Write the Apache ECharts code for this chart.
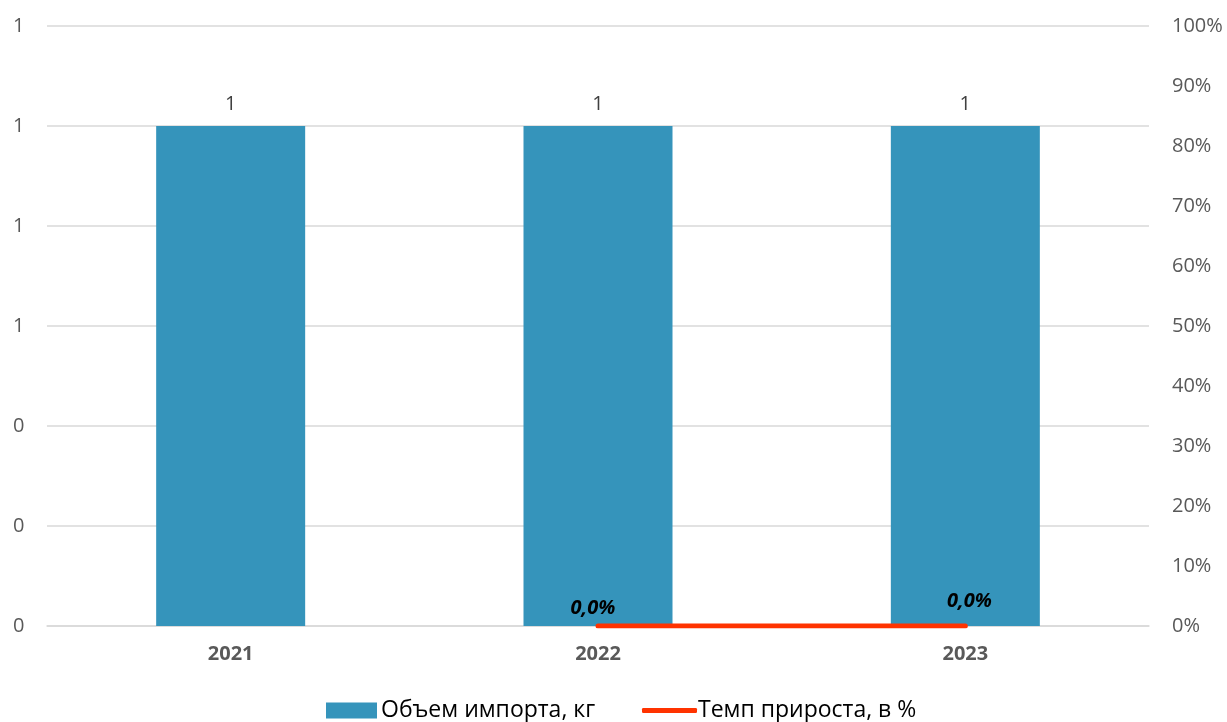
<!DOCTYPE html>
<html><head><meta charset="utf-8">
<script src="https://cdn.jsdelivr.net/npm/echarts@6/dist/echarts.min.js"></script>
<style>html,body{margin:0;padding:0;background:#fff}#c{width:1227px;height:722px}</style>
</head><body><div id="c"></div>
<script>
const categories = ['2021', '2022', '2023'];
const importVolume = [1, 1, 1];
const growthRate = [null, 0, 0];
const leftMax = 1.2, leftInterval = 0.2;
const rightMax = 1, rightInterval = 0.1;
const FONT = 'Open Sans';
const BAR_NAME = 'Объем импорта, кг';
const LINE_NAME = 'Темп прироста, в %';
const labelOffsets = [null, [-5, -18], [4, -25]];
const chart = echarts.init(document.getElementById('c'));
chart.setOption({
  animation: false,
  textStyle: { fontFamily: FONT },
  grid: { left: 47, right: 78, top: 26, bottom: 96 },
  legend: [
    {
      left: 326, bottom: 0, padding: [0, 0, 0, 0],
      itemWidth: 51, itemHeight: 16, itemGap: 0,
      textStyle: { fontFamily: FONT, fontSize: 23, color: '#000', padding: [0, 0, 0, -1] },
      data: [{ name: BAR_NAME, icon: 'rect' }]
    },
    {
      left: 642, bottom: 0, padding: [0, 0, 0, 0],
      itemWidth: 55, itemHeight: 5, itemGap: 0,
      textStyle: { fontFamily: FONT, fontSize: 23, color: '#000', padding: [0, 0, 0, -4] },
      data: [{ name: LINE_NAME, icon: 'roundRect', itemStyle: { color: '#FF3300' } }]
    }
  ],
  xAxis: {
    type: 'category', data: categories,
    axisLine: { show: true, lineStyle: { color: '#d9d9d9', width: 1.5 } },
    axisTick: { show: false },
    axisLabel: { fontFamily: FONT, fontSize: 20, fontWeight: 'bold', color: '#595959', margin: 18 }
  },
  yAxis: [
    {
      type: 'value', min: 0, max: leftMax, interval: leftInterval,
      axisLine: { show: false }, axisTick: { show: false },
      splitLine: { lineStyle: { color: '#d9d9d9', width: 1.5 } },
      axisLabel: { fontFamily: FONT, fontSize: 20, color: '#595959', align: 'left', margin: 34,
        formatter: v => String(Math.round(v)) }
    },
    {
      type: 'value', min: 0, max: rightMax, interval: rightInterval,
      axisLine: { show: false }, axisTick: { show: false }, splitLine: { show: false },
      axisLabel: { fontFamily: FONT, fontSize: 20, color: '#595959', margin: 23,
        formatter: v => Math.round(v * 100) + '%' }
    }
  ],
  series: [
    {
      name: BAR_NAME, type: 'bar', data: importVolume, barWidth: 149,
      itemStyle: { color: '#3594BB' },
      label: { show: true, position: 'top', distance: 12, fontFamily: FONT, fontSize: 20, color: '#404040',
        formatter: p => String(Math.round(p.value)) }
    },
    {
      name: LINE_NAME, type: 'line', yAxisIndex: 1,
      symbol: 'circle', symbolSize: 1, showSymbol: true,
      data: growthRate.map((v, i) => v === null ? v : { value: v, label: { offset: labelOffsets[i] } }),
      lineStyle: { color: '#FF3300', width: 5, cap: 'round' },
      itemStyle: { color: '#FF3300' },
      label: { show: true, position: 'inside', fontFamily: FONT, fontSize: 20,
        fontWeight: 'bold', fontStyle: 'italic', color: '#000',
        formatter: p => (p.value * 100).toFixed(1).replace('.', ',') + '%' }
    }
  ]
});
</script></body></html>
